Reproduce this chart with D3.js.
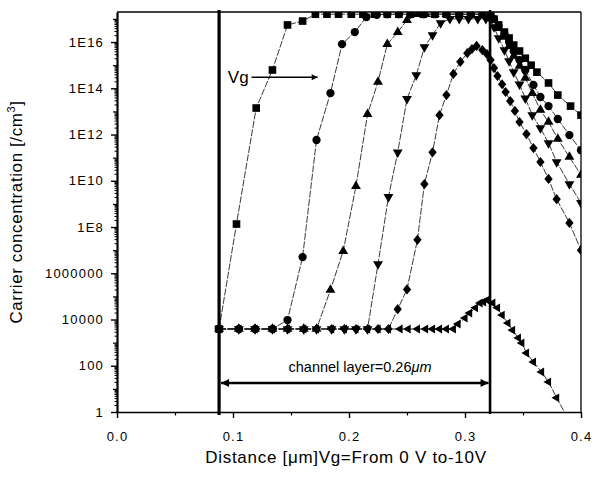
<!DOCTYPE html>
<html><head><meta charset="utf-8">
<script src="https://cdn.jsdelivr.net/npm/d3@7"></script>
<style>
body{margin:0;background:#fff;}
svg{display:block;font-family:"Liberation Sans",Arial,Helvetica,sans-serif;}
</style>
</head><body>
<svg id="chart" width="598" height="477"></svg>
<script>
// ---------------- data ----------------
const xTickValues = [0, 0.1, 0.2, 0.3, 0.4];
const xTickLabels = ["0.0", "0.1", "0.2", "0.3", "0.4"];
const yTickValues = [1, 1e2, 1e4, 1e6, 1e8, 1e10, 1e12, 1e14, 1e16];
const yTickLabels = ["1", "100", "10000", "1000000", "1E8", "1E10", "1E12", "1E14", "1E16"];
const xTitle = "Distance [\u03bcm]Vg=From 0 V to-10V";
const yTitle = "Carrier concentration [/cm";
const channelText = "channel layer=0.26";
const channelBounds = [0.088, 0.3216];

// Vg = 0 V (squares)
const vg0 = [[0.088,3.9e3],[0.103,1.35e8],[0.120,1.4e13],[0.134,6.2e14],[0.147,5.5e16],[0.160,8.1e16],
 [0.171,1.6e17],[0.181,1.6e17],[0.191,1.6e17],[0.202,1.6e17],[0.212,1.6e17],[0.222,1.6e17],[0.233,1.6e17],
 [0.243,1.6e17],[0.253,1.6e17],[0.264,1.6e17],[0.274,1.6e17],[0.284,1.6e17],[0.295,1.6e17],[0.305,1.6e17],
 [0.315,1.6e17],[0.322,1.5e17],[0.325,9.8e16],[0.329,5.5e16],[0.334,2.7e16],[0.338,1.5e16],[0.342,7.4e15],
 [0.347,4.1e15],[0.352,2.0e15],[0.357,1.0e15],[0.362,5.0e14],[0.372,1.7e14],[0.380,5.1e13],[0.391,1.7e13],[0.400,6.9e12]];
// Vg = -2 V (circles)
const vg2 = [[0.088,3.9e3],[0.105,3.9e3],[0.119,3.9e3],[0.134,3.9e3],[0.147,9.5e3],[0.160,5.0e6],[0.172,5.8e11],
 [0.184,6.2e13],[0.194,8.1e15],[0.205,2.7e16],[0.215,1.2e17],[0.224,1.5e17],[0.233,1.6e17],[0.243,1.6e17],
 [0.253,1.6e17],[0.264,1.6e17],[0.274,1.6e17],[0.284,1.6e17],[0.295,1.6e17],[0.305,1.6e17],[0.315,1.6e17],
 [0.322,1.5e17],[0.325,9.8e16],[0.329,4.9e16],[0.334,2.2e16],[0.338,1.0e16],[0.342,4.1e15],[0.347,1.66e15],
 [0.352,6.2e14],[0.359,1.4e14],[0.365,4.2e13],[0.372,1.7e13],[0.380,4.7e12],[0.390,9.5e11],[0.400,2.1e11]];
// Vg = -4 V (up triangles)
const vg4 = [[0.088,3.9e3],[0.105,3.9e3],[0.119,3.9e3],[0.134,3.9e3],[0.147,3.9e3],[0.161,3.9e3],[0.172,3.9e3],
 [0.184,1.9e5],[0.195,9.1e6],[0.206,5.9e9],[0.216,7.6e12],[0.225,1.9e14],[0.233,8.1e15],[0.242,2.7e16],
 [0.250,8.9e16],[0.259,1.6e17],[0.266,1.6e17],[0.274,1.6e17],[0.284,1.6e17],[0.295,1.6e17],[0.305,1.6e17],
 [0.315,1.6e17],[0.322,1.5e17],[0.325,8.9e16],[0.329,4.0e16],[0.334,1.65e16],[0.338,6.7e15],[0.342,2.5e15],
 [0.347,9.2e14],[0.352,2.8e14],[0.358,6.2e13],[0.365,1.15e13],[0.372,3.5e12],[0.380,6.5e11],[0.390,1.07e11],[0.400,1.8e10]];
// Vg = -6 V (down triangles)
const vg6 = [[0.088,3.9e3],[0.105,3.9e3],[0.119,3.9e3],[0.134,3.9e3],[0.147,3.9e3],[0.161,3.9e3],[0.172,3.9e3],
 [0.185,3.9e3],[0.196,3.9e3],[0.206,3.9e3],[0.216,3.9e3],[0.225,2.5e6],[0.234,2.0e9],[0.242,1.7e11],[0.250,3.5e13],
 [0.258,3.7e14],[0.265,6.0e15],[0.272,2.0e16],[0.279,6.6e16],[0.287,1.0e17],[0.295,1.0e17],[0.303,1.0e17],
 [0.311,1.0e17],[0.318,1.0e17],[0.322,9.5e16],[0.325,4.4e16],[0.329,1.5e16],[0.334,4.5e15],[0.338,1.5e15],
 [0.342,5.0e14],[0.347,1.5e14],[0.352,3.7e13],[0.358,6.9e12],[0.365,1.9e12],[0.372,4.3e11],[0.379,6.5e10],
 [0.390,7.2e9],[0.400,1.1e9]];
// Vg = -8 V (diamonds)
const vg8 = [[0.088,3.9e3],[0.105,3.9e3],[0.119,3.9e3],[0.134,3.9e3],[0.147,3.9e3],[0.161,3.9e3],[0.172,3.9e3],
 [0.185,3.9e3],[0.196,3.9e3],[0.206,3.9e3],[0.216,3.9e3],[0.225,3.9e3],[0.234,3.9e3],[0.242,2.8e4],[0.250,2.0e5],
 [0.259,2.8e7],[0.265,7.2e9],[0.272,1.7e11],[0.278,6.9e12],[0.284,5.1e13],[0.290,4.2e14],[0.296,1.4e15],
 [0.302,3.3e15],[0.306,5.0e15],[0.310,6.8e15],[0.315,4.5e15],[0.319,3.0e15],[0.322,1.66e15],[0.325,7.5e14],
 [0.328,3.4e14],[0.332,1.5e14],[0.335,6.9e13],[0.339,2.8e13],[0.343,1.05e13],[0.347,3.5e12],[0.353,1.05e12],
 [0.359,2.6e11],[0.365,6.5e10],[0.372,1.2e10],[0.379,1.6e9],[0.390,1.5e8],[0.400,1.0e7]];
// Vg = -10 V (left triangles)
const vg10 = [[0.088,3.9e3],[0.105,3.9e3],[0.119,3.9e3],[0.134,3.9e3],[0.147,3.9e3],[0.161,3.9e3],[0.172,3.9e3],
 [0.185,3.9e3],[0.196,3.9e3],[0.206,3.9e3],[0.216,3.9e3],[0.225,3.9e3],[0.234,3.9e3],[0.244,3.9e3],[0.251,3.9e3],
 [0.259,3.9e3],[0.266,3.9e3],[0.272,3.9e3],[0.278,3.9e3],[0.284,3.9e3],[0.290,3.9e3],[0.294,6.4e3],[0.300,1.15e4],
 [0.304,1.9e4],[0.309,3.2e4],[0.313,5.2e4],[0.316,5.7e4],[0.319,6.9e4],[0.324,5.2e4],[0.328,3.2e4],[0.332,1.55e4],
 [0.337,7.0e3],[0.341,3.5e3],[0.346,1.6e3],[0.349,960],[0.353,355],[0.359,145],[0.366,54],[0.372,20],[0.379,4.1],[0.390,0.4]];

// ---------------- chart ----------------
const W = 598, H = 477;
const margin = {left: 117, right: 17, top: 12, bottom: 65};
const svg = d3.select("#chart");
const x = d3.scaleLinear([0, 0.4], [margin.left, W - margin.right]);
const y = d3.scaleLog([1, Math.pow(10, 17.3)], [H - margin.bottom, margin.top]);

svg.append("defs").append("clipPath").attr("id", "plotclip")
  .append("rect").attr("x", x(0)).attr("y", y.range()[1])
  .attr("width", x(0.4) - x(0)).attr("height", y.range()[0] - y.range()[1]);

const tickFont = {size: "13px", spacing: "1.2px"};

// minor y ticks
const minorY = [], oddY = [];
for (let e = 0; e <= 17; e++) {
  if (e % 2 === 1) oddY.push(Math.pow(10, e));
  for (let m = 2; m <= 9; m++) { const v = m * Math.pow(10, e); if (v <= y.domain()[1]) minorY.push(v); }
}
svg.append("g").attr("transform", `translate(${x(0)},0)`)
  .call(d3.axisLeft(y).tickValues(minorY).tickFormat("").tickSize(2.5).tickSizeOuter(0))
  .call(g => g.select(".domain").remove())
  .call(g => g.selectAll("line").attr("stroke", "#000").attr("stroke-width", 1));
svg.append("g").attr("transform", `translate(${x(0)},0)`)
  .call(d3.axisLeft(y).tickValues(oddY).tickFormat("").tickSize(4).tickSizeOuter(0))
  .call(g => g.select(".domain").remove())
  .call(g => g.selectAll("line").attr("stroke", "#000").attr("stroke-width", 1.2));

const yAxis = svg.append("g").attr("transform", `translate(${x(0)},0)`)
  .call(d3.axisLeft(y).tickValues(yTickValues).tickFormat((d, i) => yTickLabels[i]).tickSize(6).tickPadding(7).tickSizeOuter(0));
yAxis.select(".domain").attr("stroke", "#000").attr("stroke-width", 2.2);
yAxis.selectAll("line").attr("stroke", "#000").attr("stroke-width", 1.4);
yAxis.selectAll("text").attr("font-size", tickFont.size).attr("letter-spacing", tickFont.spacing)
  .attr("fill", "#000").attr("font-family", "Liberation Sans, Arial, sans-serif");

// x axis
const minorX = [0.05, 0.15, 0.25, 0.35];
svg.append("g").attr("transform", `translate(0,${y(1)})`)
  .call(d3.axisBottom(x).tickValues(minorX).tickFormat("").tickSize(3.5).tickSizeOuter(0))
  .call(g => g.select(".domain").remove())
  .call(g => g.selectAll("line").attr("stroke", "#000").attr("stroke-width", 1.2));
const xAxis = svg.append("g").attr("transform", `translate(0,${y(1)})`)
  .call(d3.axisBottom(x).tickValues(xTickValues).tickFormat((d, i) => xTickLabels[i]).tickSize(6).tickPadding(14).tickSizeOuter(0));
xAxis.select(".domain").attr("stroke", "#000").attr("stroke-width", 1.6);
xAxis.selectAll("line").attr("stroke", "#000").attr("stroke-width", 1.4);
xAxis.selectAll("text").attr("font-size", tickFont.size).attr("letter-spacing", tickFont.spacing)
  .attr("fill", "#000").attr("font-family", "Liberation Sans, Arial, sans-serif");

// top & right frame
svg.append("line").attr("x1", x(0)).attr("x2", x(0.4)).attr("y1", y.range()[1]).attr("y2", y.range()[1])
  .attr("stroke", "#000").attr("stroke-width", 1.3);
svg.append("line").attr("x1", x(0.4)).attr("x2", x(0.4)).attr("y1", y.range()[1]).attr("y2", y(1))
  .attr("stroke", "#000").attr("stroke-width", 1.3);

// series
const diamond = {draw(ctx, size) { const h = Math.sqrt(size) * 0.75, w = h * 0.82;
  ctx.moveTo(0, -h); ctx.lineTo(w, 0); ctx.lineTo(0, h); ctx.lineTo(-w, 0); ctx.closePath(); }};
const series = [
  {data: vg10, type: d3.symbolTriangle, size: 34, rot: -90},
  {data: vg8, type: diamond, size: 46, rot: 0},
  {data: vg6, type: d3.symbolTriangle, size: 42, rot: 180},
  {data: vg4, type: d3.symbolTriangle, size: 42, rot: 0},
  {data: vg2, type: d3.symbolCircle, size: 54, rot: 0},
  {data: vg0, type: d3.symbolSquare, size: 58, rot: 0}
];
const line = d3.line().x(d => x(d[0])).y(d => y(d[1]));
const plot = svg.append("g").attr("clip-path", "url(#plotclip)");
series.forEach(s => {
  plot.append("path").datum(s.data).attr("d", line).attr("fill", "none")
    .attr("stroke", "#222").attr("stroke-width", 0.9).attr("stroke-dasharray", "7,1.5");
});
series.forEach(s => {
  const sym = d3.symbol().type(s.type).size(s.size);
  plot.append("g").selectAll("path").data(s.data).join("path")
    .attr("d", sym)
    .attr("transform", d => `translate(${x(d[0])},${y(d[1])}) rotate(${s.rot})`)
    .attr("fill", "#000");
});

// channel boundary lines
svg.append("line").attr("x1", x(channelBounds[0])).attr("x2", x(channelBounds[0]))
  .attr("y1", y.range()[1] - 2).attr("y2", y(1) + 3).attr("stroke", "#000").attr("stroke-width", 3.2);
svg.append("line").attr("x1", x(channelBounds[1])).attr("x2", x(channelBounds[1]))
  .attr("y1", y.range()[1] - 2).attr("y2", y(1) + 2).attr("stroke", "#000").attr("stroke-width", 2.6);

// arrowhead marker
const defs = svg.select("defs");
defs.append("marker").attr("id", "ah").attr("viewBox", "0 0 10 10").attr("refX", 10).attr("refY", 5)
  .attr("markerUnits", "userSpaceOnUse").attr("markerWidth", 11).attr("markerHeight", 8).attr("orient", "auto-start-reverse")
  .append("path").attr("d", "M0,0 L10,5 L0,10 Z").attr("fill", "#000");
defs.append("marker").attr("id", "ah2").attr("viewBox", "0 0 10 10").attr("refX", 10).attr("refY", 5)
  .attr("markerUnits", "userSpaceOnUse").attr("markerWidth", 9).attr("markerHeight", 6).attr("orient", "auto")
  .append("path").attr("d", "M0,0 L10,5 L0,10 Z").attr("fill", "#000");

// channel double arrow
const chY = 18;
svg.append("line").attr("x1", x(channelBounds[0]) + 2).attr("x2", x(channelBounds[1]) - 1.5)
  .attr("y1", y(chY)).attr("y2", y(chY)).attr("stroke", "#000").attr("stroke-width", 2.4)
  .attr("marker-start", "url(#ah)").attr("marker-end", "url(#ah)");
const ct = svg.append("text").attr("x", x(0.2095)).attr("y", y(54)).attr("text-anchor", "middle")
  .attr("font-size", "14.5px").attr("fill", "#000").text(channelText);
ct.append("tspan").attr("font-style", "italic").text("\u03bcm");

// Vg arrow
const vgY = 3e14;
svg.append("line").attr("x1", x(0.116)).attr("x2", x(0.173)).attr("y1", y(vgY)).attr("y2", y(vgY))
  .attr("stroke", "#000").attr("stroke-width", 1.3).attr("marker-end", "url(#ah2)");
svg.append("text").attr("x", x(0.1135)).attr("y", y(vgY)).attr("dy", "0.36em").attr("text-anchor", "end")
  .attr("font-size", "17px").attr("fill", "#000").text("Vg");

// axis titles
svg.append("text").attr("x", (x(0) + x(0.4)) / 2 - 3).attr("y", 463).attr("text-anchor", "middle")
  .attr("font-size", "17px").attr("letter-spacing", "0.7px").attr("fill", "#000").text(xTitle);
const yt = svg.append("text").attr("transform", "translate(22,212) rotate(-90)").attr("text-anchor", "middle")
  .attr("font-size", "17px").attr("letter-spacing", "0.6px").attr("fill", "#000").text(yTitle);
yt.append("tspan").attr("font-size", "11px").attr("dy", "-7").text("3");
yt.append("tspan").attr("dy", "7").text("]");
</script>
</body></html>
